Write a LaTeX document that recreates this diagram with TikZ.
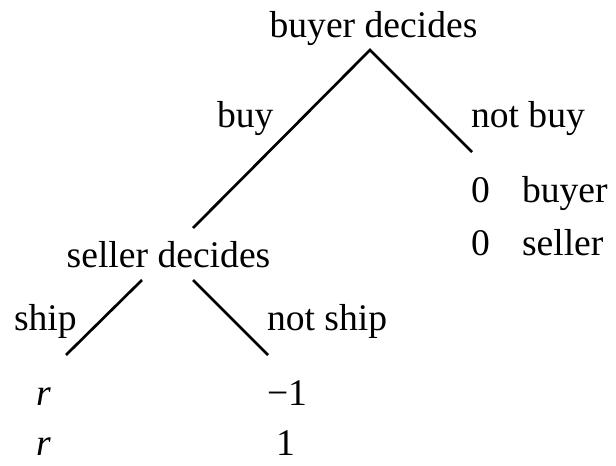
\documentclass[tikz,border=0pt]{standalone}
\usepackage{fontspec}
\setmainfont{Liberation Serif}
\begin{document}
\begin{tikzpicture}[x=0.5pt,y=-0.5pt,
  lbl/.style={inner sep=0pt,outer sep=0pt,font=\fontsize{18.8}{22}\selectfont},
  edge/.style={line width=1.35pt}]
\useasboundingbox (0,0) rectangle (616,466);
% texts
\node[lbl,anchor=base] (buyer) at (373.5,37) {buyer decides};
\node[lbl,anchor=base west] (buy) at (217,127) {buy};
\node[lbl,anchor=base west] (notbuy) at (471,127) {not buy};
\node[lbl,anchor=base west] (z1) at (471,202) {0};
\node[lbl,anchor=base west] (pb) at (522,202) {buyer};
\node[lbl,anchor=base west] (z2) at (471,255) {0};
\node[lbl,anchor=base west] (ps) at (522,255) {seller};
\node[lbl,anchor=base] (seller) at (168.5,267) {seller decides};
\node[lbl,anchor=base west] (ship) at (14,330) {ship};
\node[lbl,anchor=base west] (notship) at (267,330) {not ship};
\node[lbl,anchor=base west] (r1) at (36,405) {\textit{r}};
\node[lbl,anchor=base west] (m1) at (267,405) {−1};
\node[lbl,anchor=base west] (r2) at (36,455) {\textit{r}};
\node[lbl,anchor=base west] (one) at (276,455) {1};
% connector points
\coordinate (apex) at (370,50);
\coordinate (buyend) at (193,228);
\coordinate (notbuyend) at (472,152);
\coordinate (sl) at (142,280);
\coordinate (sr) at (193,280);
\coordinate (shipend) at (66,355);
\coordinate (notshipend) at (268,355);
\draw[edge] (buyend) -- (apex) -- (notbuyend);
\draw[edge] (sl) -- (shipend);
\draw[edge] (sr) -- (notshipend);
\end{tikzpicture}
\end{document}
